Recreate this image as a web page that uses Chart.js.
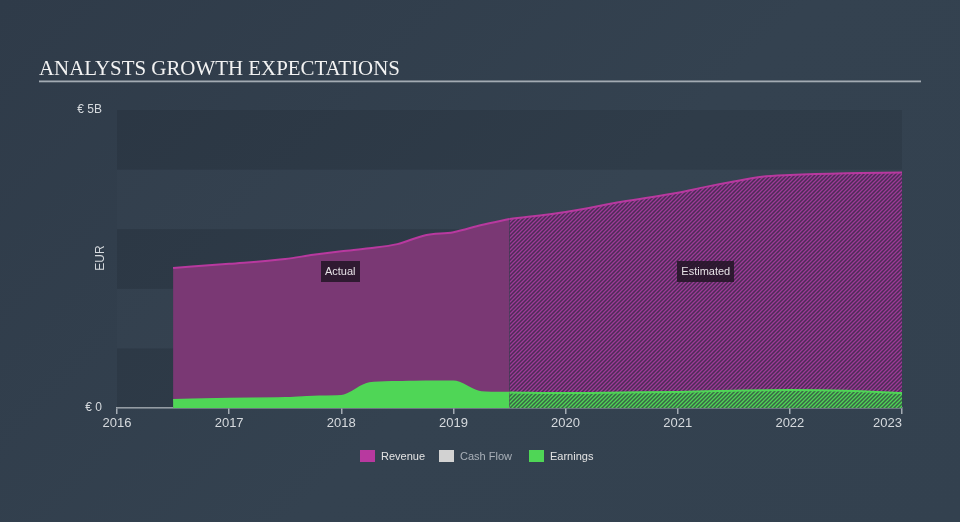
<!DOCTYPE html>
<html><head><meta charset="utf-8">
<script src="https://cdn.jsdelivr.net/npm/chart.js@4.4.0/dist/chart.umd.min.js"></script>
<style>
html,body{margin:0;padding:0;background:#333f4d;}
#wrap{width:960px;height:522px;position:relative;background:linear-gradient(135deg,#2f3b49 0%,#344250 55%,#33414f 100%);}
canvas{display:block}
</style></head><body>
<div id="wrap"><canvas id="c" width="960" height="522"></canvas></div>
<script>
// ---- data (EUR billions) ----
const revenueActualX = [2016.5, 2017, 2017.5, 2017.75, 2018, 2018.25, 2018.5, 2018.75, 2019, 2019.25, 2019.5];
const revenueActual  = [2.35, 2.42, 2.50, 2.57, 2.63, 2.68, 2.75, 2.90, 2.95, 3.07, 3.17];
const revenueEstX    = [2019.5, 2020, 2020.5, 2021, 2021.25, 2021.5, 2021.75, 2022, 2022.5, 2023];
const revenueEst     = [3.17, 3.29, 3.46, 3.61, 3.71, 3.80, 3.88, 3.91, 3.94, 3.95];
const earningsActualX = [2016.5, 2017, 2017.5, 2017.75, 2018, 2018.25, 2018.5, 2018.75, 2019, 2019.25, 2019.5];
const earningsActual  = [0.14, 0.16, 0.17, 0.195, 0.205, 0.42, 0.44, 0.45, 0.45, 0.27, 0.26];
const earningsEstX    = [2019.5, 2020, 2020.5, 2021, 2021.5, 2022, 2022.5, 2023];
const earningsEst     = [0.26, 0.25, 0.26, 0.27, 0.29, 0.30, 0.29, 0.25];
const cashFlow = [];
const yTickValues = [0, 5];
const yTickLabels = ['€ 0', '€ 5B'];
const legendNames = ['Revenue', 'Cash Flow', 'Earnings'];
const periodLabels = [{text:'Actual', x:2017.99, y:2.29}, {text:'Estimated', x:2021.25, y:2.29}];
const titleText = 'ANALYSTS GROWTH EXPECTATIONS';

const ctx = document.getElementById('c').getContext('2d');
const zip = (xs, ys) => xs.map((x, i) => ({x, y: ys[i]}));

function hatch(bg, fg) {
  const s = 4, c = document.createElement('canvas');
  c.width = c.height = s;
  const g = c.getContext('2d');
  g.fillStyle = bg; g.fillRect(0, 0, s, s);
  g.strokeStyle = fg; g.lineWidth = 1.3;
  g.beginPath();
  g.moveTo(0, s); g.lineTo(s, 0);
  g.moveTo(-1, 1); g.lineTo(1, -1);
  g.moveTo(s - 1, s + 1); g.lineTo(s + 1, s - 1);
  g.stroke();
  return ctx.createPattern(c, 'repeat');
}

const REV_LINE = '#b8399f', REV_FILL = '#7a3874';
const EARN = '#4fd656';

const bands = {
  id: 'bands',
  beforeDatasetsDraw(chart) {
    const {ctx, chartArea: a, scales: {y}} = chart;
    ctx.save();
    for (let v = 0; v < 5; v++) {
      const top = y.getPixelForValue(v + 1), bot = y.getPixelForValue(v);
      ctx.fillStyle = (v % 2 === 0) ? 'rgba(0,0,0,0.085)' : 'rgba(255,255,255,0.012)';
      ctx.fillRect(a.left, top, a.right - a.left, bot - top);
    }
    ctx.restore();
  }
};

const decor = {
  id: 'decor',
  afterDraw(chart) {
    const {ctx, chartArea: a, scales: {x, y}} = chart;
    ctx.save();
    // title
    ctx.fillStyle = '#f2f2f2';
    ctx.textBaseline = 'alphabetic';
    ctx.textAlign = 'left';
    ctx.font = '22px "Liberation Serif", "DejaVu Serif", serif';
    const w = ctx.measureText(titleText).width;
    const fs = 22 * 361 / w;
    ctx.font = fs.toFixed(2) + 'px "Liberation Serif", "DejaVu Serif", serif';
    ctx.fillText(titleText, 39, 75);
    ctx.fillStyle = '#a3abb3';
    ctx.fillRect(39, 80.5, 882, 1.8);
    // EUR label
    ctx.save();
    ctx.translate(101, (a.top + a.bottom) / 2 - 1);
    ctx.rotate(-Math.PI / 2);
    ctx.textAlign = 'center'; ctx.textBaseline = 'middle';
    ctx.fillStyle = '#d6dade';
    ctx.font = '12px "Liberation Sans", Arial, sans-serif';
    ctx.fillText('EUR', 0, 0);
    ctx.restore();
    // 2023 label right-aligned
    ctx.fillStyle = '#d6dade';
    ctx.font = '13px "Liberation Sans", Arial, sans-serif';
    ctx.textAlign = 'right'; ctx.textBaseline = 'middle';
    ctx.fillText('2023', x.getPixelForValue(2023), 423);
    // legend
    const cols = [REV_LINE, '#d2d2d2', EARN];
    const txtCols = ['#e4e4e4', '#a9b0b8', '#e4e4e4'];
    const sqX = [360, 439, 529];
    ctx.font = '11px "Liberation Sans", Arial, sans-serif';
    ctx.textAlign = 'left'; ctx.textBaseline = 'middle';
    legendNames.forEach((n, i) => {
      ctx.fillStyle = cols[i];
      ctx.fillRect(sqX[i], 450, 15, 12);
      ctx.fillStyle = txtCols[i];
      ctx.fillText(n, sqX[i] + 21, 456.5);
    });
    ctx.restore();
  },
  afterDatasetsDraw(chart) {
    const {ctx, scales: {x, y}} = chart;
    ctx.save();
    ctx.font = '11px "Liberation Sans", Arial, sans-serif';
    ctx.textAlign = 'center'; ctx.textBaseline = 'middle';
    periodLabels.forEach(p => {
      const cx = x.getPixelForValue(p.x), cy = y.getPixelForValue(p.y);
      const tw = ctx.measureText(p.text).width + 8;
      ctx.fillStyle = 'rgba(36,22,40,0.88)';
      ctx.fillRect(Math.round(cx - tw / 2), Math.round(cy - 10.5), Math.round(tw), 21);
      ctx.fillStyle = '#e6e2e6';
      ctx.fillText(p.text, cx, cy + 0.5);
    });
    ctx.restore();
  }
};

new Chart(ctx, {
  type: 'line',
  data: {
    datasets: [
      {label: 'Earnings', data: zip(earningsActualX, earningsActual), borderColor: EARN, backgroundColor: EARN,
        fill: 'origin', borderWidth: 1.5, pointRadius: 0, cubicInterpolationMode: 'monotone', order: 0},
      {label: 'Earnings est', data: zip(earningsEstX, earningsEst), borderColor: EARN, backgroundColor: hatch('#3a6447', '#4fd656'),
        fill: 'origin', borderWidth: 2, pointRadius: 0, cubicInterpolationMode: 'monotone', order: 0},
      {label: 'Cash Flow', data: cashFlow, borderColor: '#d2d2d2', backgroundColor: '#d2d2d2', pointRadius: 0, order: 1},
      {label: 'Revenue', data: zip(revenueActualX, revenueActual), borderColor: REV_LINE, backgroundColor: REV_FILL,
        fill: 'origin', borderWidth: 2, pointRadius: 0, cubicInterpolationMode: 'monotone', order: 2},
      {label: 'Revenue est', data: zip(revenueEstX, revenueEst), borderColor: REV_LINE, backgroundColor: hatch('#4c2c56', '#9d3a97'),
        fill: 'origin', borderWidth: 2, pointRadius: 0, cubicInterpolationMode: 'monotone', order: 2}
    ]
  },
  options: {
    responsive: false,
    animation: false,
    layout: {padding: {top: 110, right: 58, left: 0, bottom: 0}},
    plugins: {legend: {display: false}, tooltip: {enabled: false}},
    scales: {
      x: {
        type: 'linear', min: 2016, max: 2023,
        afterFit(s) { s.height = 114; },
        border: {display: true, color: '#a3abb3', width: 1.5},
        grid: {display: true, drawOnChartArea: false, drawTicks: true, tickLength: 6, color: '#a3abb3', lineWidth: 1.5},
        ticks: {stepSize: 1, padding: 2, color: '#d6dade', font: {size: 13, family: '"Liberation Sans", Arial, sans-serif'},
          maxRotation: 0, autoSkip: false,
          callback: v => (v === 2023 ? '' : String(v))}
      },
      y: {
        min: 0, max: 5,
        afterFit(s) { s.width = 117; },
        afterBuildTicks(s) { s.ticks = yTickValues.map(v => ({value: v})); },
        border: {display: false},
        grid: {display: false},
        ticks: {padding: 7, color: '#d6dade', font: {size: 12, family: '"Liberation Sans", Arial, sans-serif'},
          callback: v => yTickLabels[yTickValues.indexOf(v)]}
      }
    }
  },
  plugins: [bands, decor]
});
</script>
</body></html>
